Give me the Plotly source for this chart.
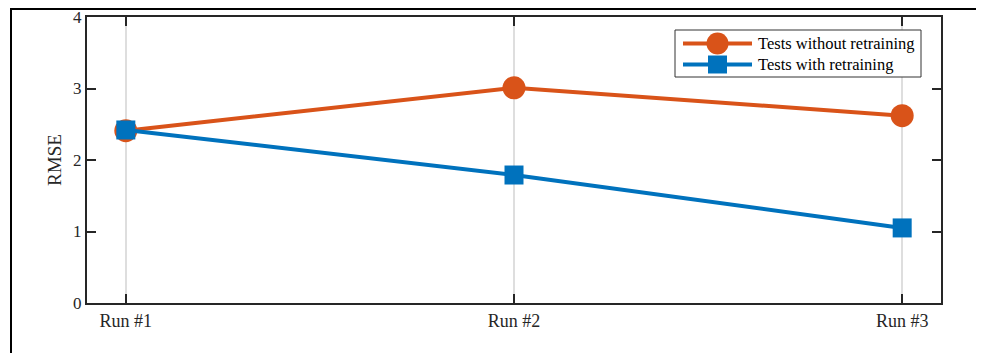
import plotly.graph_objects as go

categories = ["Run #1", "Run #2", "Run #3"]
without_retraining = [2.41, 3.01, 2.62]
with_retraining = [2.42, 1.79, 1.05]
y_ticks = [0, 1, 2, 3, 4]
series_names = ["Tests without retraining", "Tests with retraining"]
colors = ["#D95319", "#0072BD"]

OFF = 8  # page body margin offset
W, H = 984 - OFF, 353 - OFF
L, R, T, B = 87 - OFF, 941 - OFF, 17 - OFF, 303 - OFF

fig = go.Figure()
fig.add_trace(go.Scatter(
    x=list(range(len(categories))), y=without_retraining, mode="lines+markers",
    name=series_names[0], showlegend=False,
    line=dict(color=colors[0], width=4),
    marker=dict(symbol="circle", size=23, color=colors[0]),
))
fig.add_trace(go.Scatter(
    x=list(range(len(categories))), y=with_retraining, mode="lines+markers",
    name=series_names[1], showlegend=False,
    line=dict(color=colors[1], width=4),
    marker=dict(symbol="square", size=19, color=colors[1]),
))

pw, ph = R - L, B - T
def px(x): return (x - OFF - L) / pw
def py(y): return (B - (y - OFF)) / ph

shapes = [
    # figure frame
    dict(type="line", xref="paper", yref="paper", x0=px(11), x1=px(990), y0=py(9), y1=py(9),
         line=dict(color="black", width=2)),
    dict(type="line", xref="paper", yref="paper", x0=px(11), x1=px(11), y0=py(8), y1=py(360),
         line=dict(color="black", width=2)),
    # legend box
    dict(type="rect", xref="paper", yref="paper", x0=px(675), x1=px(921), y0=py(30), y1=py(77),
         line=dict(color="#333333", width=1), fillcolor="white", layer="above"),
]
annotations = []
row_y = [43.5, 64.5]
for i, (name, c) in enumerate(zip(series_names, colors)):
    yy = row_y[i]
    shapes.append(dict(type="line", xref="paper", yref="paper", x0=px(683), x1=px(752),
                       y0=py(yy), y1=py(yy), line=dict(color=c, width=4), layer="above"))
    if i == 0:
        shapes.append(dict(type="circle", xref="paper", yref="paper",
                           x0=px(717.5 - 11), x1=px(717.5 + 11), y0=py(yy - 11), y1=py(yy + 11),
                           line=dict(width=0), fillcolor=c, layer="above"))
    else:
        shapes.append(dict(type="rect", xref="paper", yref="paper",
                           x0=px(717.5 - 9.5), x1=px(717.5 + 9.5), y0=py(yy - 9), y1=py(yy + 9),
                           line=dict(width=0), fillcolor=c, layer="above"))
    annotations.append(dict(text=name, xref="paper", yref="paper", x=px(756), y=py(yy),
                            xanchor="left", yanchor="middle", showarrow=False,
                            font=dict(size=16.5, color="#000000")))

fig.update_layout(
    width=W, height=H,
    margin=dict(l=L, r=W - R, t=T, b=H - B),
    paper_bgcolor="white", plot_bgcolor="white",
    font=dict(family="Liberation Serif, Times New Roman, serif", size=18, color="#262626"),
    showlegend=False,
    xaxis=dict(
        range=[-0.1, 2.1], tickmode="array", tickvals=list(range(len(categories))),
        ticktext=categories, showgrid=True, gridcolor="#dedede", gridwidth=1.5,
        showline=True, linecolor="#262626", linewidth=2, mirror="allticks",
        ticks="inside", ticklen=9, tickwidth=2, tickcolor="#262626",
        zeroline=False, tickfont=dict(size=18), automargin=False,
        ticklabeloverflow="allow",
    ),
    yaxis=dict(
        range=[0, 4], tickmode="array", tickvals=y_ticks,
        showgrid=False, showline=True, linecolor="#262626", linewidth=2,
        mirror="allticks", ticks="inside", ticklen=9, tickwidth=2, tickcolor="#262626",
        zeroline=False, tickfont=dict(size=17), automargin=False,
        ticklabeloverflow="allow",
        title=dict(text="RMSE", font=dict(size=19), standoff=6),
    ),
    shapes=shapes,
    annotations=annotations,
)

fig.write_html("out.html")
